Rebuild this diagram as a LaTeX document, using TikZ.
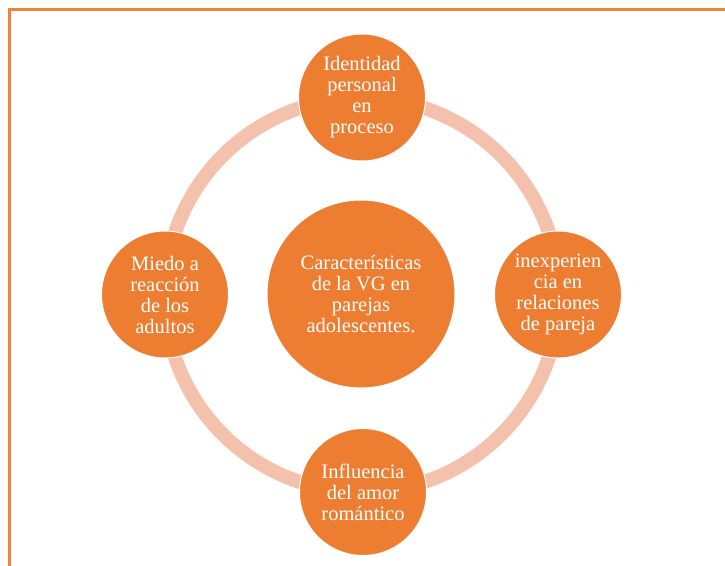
\documentclass[tikz,border=0pt]{standalone}
\usepackage{fontspec}
\setmainfont{Liberation Serif}
\definecolor{accent}{HTML}{ED7D31}
\definecolor{ringcol}{HTML}{F4C1AD}
\definecolor{framecol}{HTML}{EE8439}
\begin{document}
\begin{tikzpicture}[x=1pt,y=-1pt,
  bubble/.style={circle,fill=accent,draw=white,line width=1pt,text=white,
    align=center,inner sep=0pt,font=\fontsize{20.5}{21}\selectfont},
  small/.style={bubble,minimum size=127pt},
  big/.style={bubble,minimum size=188pt},
  ring/.style={draw=ringcol,line width=14pt},
  frame/.style={draw=framecol,line width=3pt}]
\useasboundingbox (0,0) rectangle (725,565);
\draw[frame] (9.5,570) -- (9.5,9.5) -- (730,9.5);
\coordinate (o) at (362,295);
\draw[ring] (o) circle[radius=197];
\node[big] (c) at (361,294) {Características\\de la VG en\\parejas\\adolescentes.};
\node[small] (t) at (362,97.5) {Identidad\\personal\\en\\proceso};
\node[small] (r) at (558,294.5) {inexperien\\cia en\\relaciones\\de pareja};
\node[small] (b) at (363,492) {Influencia\\del amor\\romántico};
\node[small] (l) at (165,294.5) {Miedo a\\reacción\\de los\\adultos};
\end{tikzpicture}
\end{document}
